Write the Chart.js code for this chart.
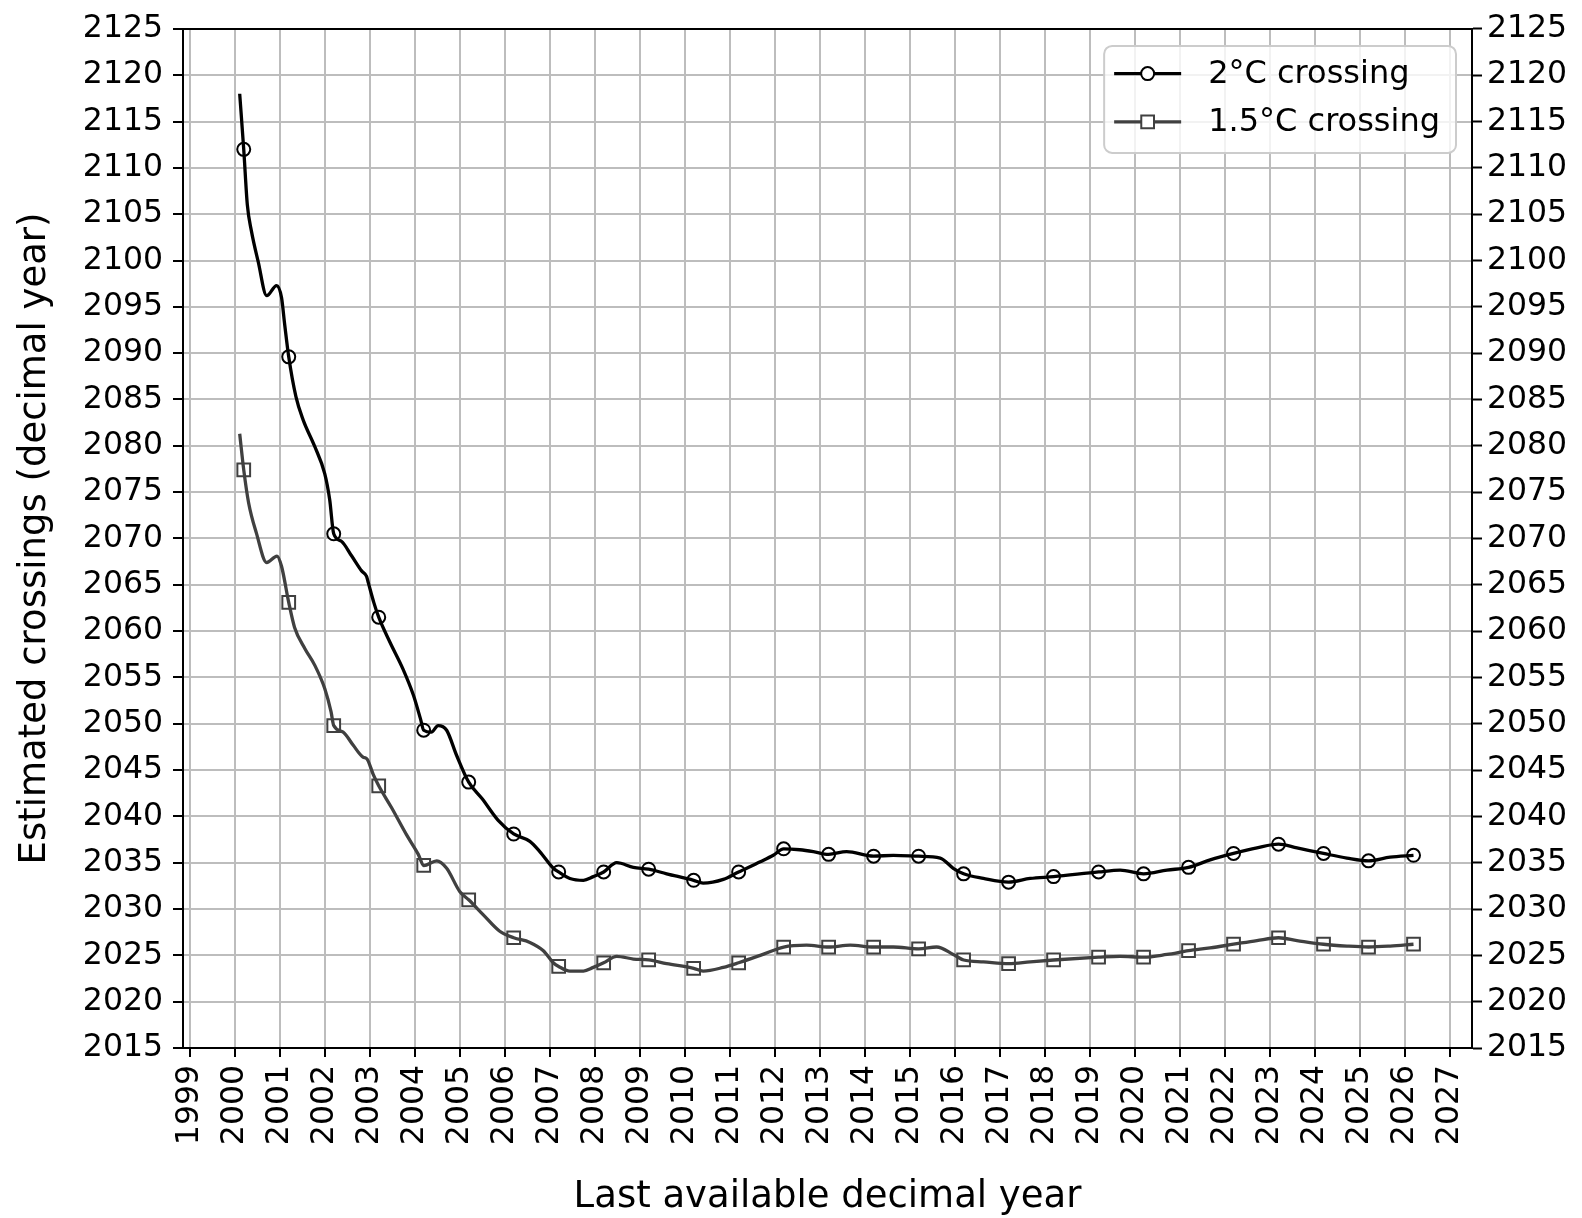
<!DOCTYPE html>
<html>
<head>
<meta charset="utf-8">
<title>Estimated crossings</title>
<script src="https://cdn.jsdelivr.net/npm/chart.js@4.4.1/dist/chart.umd.min.js"></script>
<style>
  html, body { margin: 0; padding: 0; background: #ffffff; }
  #wrap { width: 1582px; height: 1218px; }
</style>
</head>
<body>
<div id="wrap"><canvas id="chart" width="1582" height="1218"></canvas></div>
<script>
// Yearly marker positions (last available decimal year) and estimated crossing years
const markYears = [2000.2, 2001.2, 2002.2, 2003.2, 2004.2, 2005.2, 2006.2, 2007.2, 2008.2, 2009.2,
                   2010.2, 2011.2, 2012.2, 2013.2, 2014.2, 2015.2, 2016.2, 2017.2, 2018.2, 2019.2,
                   2020.2, 2021.2, 2022.2, 2023.2, 2024.2, 2025.2, 2026.2];
const mark2C  = [2112.0, 2089.6, 2070.5, 2061.5, 2049.3, 2043.7, 2038.1, 2034.0, 2034.0, 2034.3,
                 2033.1, 2034.0, 2036.5, 2035.9, 2035.7, 2035.7, 2033.8, 2032.9, 2033.5, 2034.0,
                 2033.8, 2034.5, 2036.0, 2037.0, 2036.0, 2035.2, 2035.8];
const mark15C = [2077.4, 2063.1, 2049.8, 2043.3, 2034.7, 2031.0, 2026.9, 2023.8, 2024.2, 2024.5,
                 2023.6, 2024.2, 2025.9, 2025.9, 2025.9, 2025.7, 2024.5, 2024.1, 2024.5, 2024.8,
                 2024.8, 2025.5, 2026.2, 2026.9, 2026.2, 2025.9, 2026.2];

// Intermediate points of the 2°C crossing trace
const trace2CYears = [2000.11, 2000.28, 2000.37, 2000.52, 2000.71, 2000.93, 2001.04, 2001.11, 2001.36, 2001.52,
                      2001.78, 2002.0, 2002.11, 2002.37, 2002.6, 2002.82, 2002.93, 2002.97, 2003.09, 2003.45,
                      2003.74, 2003.97, 2004.13, 2004.37, 2004.52, 2004.71, 2004.93, 2005.5, 2005.85, 2006.56,
                      2006.78, 2007.08, 2007.45, 2007.75, 2007.97, 2008.49, 2008.86, 2009.6, 2010.41, 2010.86,
                      2011.68, 2011.97, 2012.56, 2012.86, 2013.6, 2014.64, 2015.68, 2015.97, 2016.64, 2017.68,
                      2019.68, 2020.72, 2021.68, 2022.72, 2023.61, 2024.72, 2025.68];
const trace2C = [2118.0, 2106.0, 2103.2, 2099.9, 2096.2, 2097.3, 2096.0, 2093.1, 2085.3, 2082.8,
                 2079.9, 2077.0, 2074.2, 2069.7, 2068.1, 2066.5, 2065.9, 2065.2, 2063.1, 2058.8,
                 2055.9, 2053.1, 2050.5, 2049.1, 2049.8, 2049.3, 2046.6, 2041.9, 2039.6, 2037.3,
                 2036.2, 2034.4, 2033.3, 2033.1, 2033.5, 2035.0, 2034.5, 2033.8, 2032.8, 2033.2,
                 2035.1, 2035.8, 2036.4, 2036.2, 2036.2, 2035.8, 2035.5, 2034.4, 2033.3, 2033.3,
                 2034.2, 2034.2, 2035.3, 2036.6, 2036.6, 2035.5, 2035.6];

// Intermediate points of the 1.5°C crossing trace
const trace15CYears = [2000.11, 2000.31, 2000.48, 2000.71, 2000.94, 2001.04, 2001.33, 2001.56, 2001.78, 2002.0,
                       2002.14, 2002.41, 2002.63, 2002.85, 2002.94, 2003.08, 2003.49, 2003.82, 2004.08, 2004.49,
                       2004.71, 2005.0, 2005.52, 2005.89, 2006.56, 2006.86, 2007.08, 2007.45, 2007.75, 2007.97,
                       2008.49, 2008.86, 2009.6, 2010.41, 2010.86, 2011.68, 2012.71, 2013.68, 2014.64, 2015.6,
                       2015.97, 2016.64, 2017.68, 2019.68, 2020.72, 2021.68, 2022.72, 2023.61, 2024.72, 2025.68];
const trace15C = [2081.3, 2073.8, 2070.6, 2067.4, 2068.1, 2067.0, 2060.4, 2058.1, 2056.3, 2053.8,
                  2051.3, 2049.1, 2047.7, 2046.4, 2046.2, 2044.5, 2040.9, 2038.0, 2035.9, 2035.2,
                  2034.4, 2031.9, 2029.4, 2027.6, 2026.4, 2025.5, 2024.2, 2023.3, 2023.3, 2023.7,
                  2024.9, 2024.6, 2024.1, 2023.3, 2023.7, 2025.0, 2026.1, 2026.1, 2025.9, 2025.9,
                  2025.1, 2024.3, 2024.3, 2024.9, 2025.1, 2025.8, 2026.6, 2026.6, 2026.0, 2026.0];

// Axis ticks
const xTickYears = [1999, 2000, 2001, 2002, 2003, 2004, 2005, 2006, 2007, 2008, 2009, 2010, 2011, 2012, 2013,
                    2014, 2015, 2016, 2017, 2018, 2019, 2020, 2021, 2022, 2023, 2024, 2025, 2026, 2027];
const yTicks = [2015, 2020, 2025, 2030, 2035, 2040, 2045, 2050, 2055, 2060, 2065, 2070,
                2075, 2080, 2085, 2090, 2095, 2100, 2105, 2110, 2115, 2120, 2125];

const FONT = 'DejaVu Sans';
const COL_2C = '#000000';
const COL_15C = '#404040';
const GRID = '#bdbdbd';
const LINE_W = 3.3;
const CIRCLE_R = 6.5;
const SQUARE_R = 9;

function toPoints(xs, ys) {
  return xs.map((x, i) => ({ x: x, y: ys[i] }));
}
function traceOf(mx, my, tx, ty) {
  return toPoints(mx, my).concat(toPoints(tx, ty)).sort((a, b) => a.x - b.x);
}

// Legend drawn as line sample with marker in the middle, framed box
const legendPlugin = {
  id: 'lineMarkerLegend',
  afterDraw(chart) {
    const { ctx, chartArea } = chart;
    const entries = chart.data.datasets.filter(d => d.legendStyle);
    ctx.save();
    ctx.font = '32px "' + FONT + '"';
    const textW = Math.max(...entries.map(e => ctx.measureText(e.label).width));
    const padL = 10, sample = 67, gap = 27, padR = 16, rowH = 48.3;
    const w = padL + sample + gap + textW + padR;
    const h = 107;
    const x0 = chartArea.right - 16 - w;
    const y0 = chartArea.top + 17;
    ctx.beginPath();
    ctx.roundRect(x0, y0, w, h, 8);
    ctx.fillStyle = 'rgba(255,255,255,0.8)';
    ctx.fill();
    ctx.lineWidth = 2;
    ctx.strokeStyle = '#cccccc';
    ctx.stroke();
    entries.forEach((e, i) => {
      const cy = y0 + 27.7 + i * rowH;
      const lx = x0 + padL;
      ctx.beginPath();
      ctx.moveTo(lx, cy);
      ctx.lineTo(lx + sample, cy);
      ctx.strokeStyle = e.borderColor;
      ctx.lineWidth = LINE_W;
      ctx.stroke();
      ctx.fillStyle = '#ffffff';
      ctx.strokeStyle = e.borderColor;
      ctx.lineWidth = 2;
      ctx.beginPath();
      if (e.legendStyle.style === 'circle') {
        ctx.arc(lx + sample / 2, cy, e.legendStyle.radius, 0, Math.PI * 2);
      } else {
        const s = e.legendStyle.radius * Math.SQRT1_2;
        ctx.rect(lx + sample / 2 - s, cy - s, 2 * s, 2 * s);
      }
      ctx.fill();
      ctx.stroke();
      ctx.fillStyle = '#000000';
      ctx.textAlign = 'left';
      ctx.textBaseline = 'middle';
      ctx.fillText(e.label, lx + sample + gap, cy + 1);
    });
    ctx.restore();
  }
};

// Top spine of the frame
const framePlugin = {
  id: 'frameTop',
  afterDatasetsDraw(chart) {
    const { ctx, chartArea } = chart;
    ctx.save();
    ctx.strokeStyle = '#000000';
    ctx.lineWidth = 2;
    ctx.beginPath();
    ctx.moveTo(chartArea.left - 1, chartArea.top);
    ctx.lineTo(chartArea.right + 1, chartArea.top);
    ctx.stroke();
    ctx.restore();
  }
};

const tickFont = { family: FONT, size: 31.5 };
const titleFont = { family: FONT, size: 37, lineHeight: 1 };

new Chart(document.getElementById('chart'), {
  type: 'line',
  data: {
    datasets: [
      {
        label: '2°C crossing',
        data: traceOf(markYears, mark2C, trace2CYears, trace2C),
        borderColor: COL_2C, borderWidth: LINE_W, pointRadius: 0,
        cubicInterpolationMode: 'monotone', fill: false,
        legendStyle: { style: 'circle', radius: CIRCLE_R }
      },
      {
        label: '1.5°C crossing',
        data: traceOf(markYears, mark15C, trace15CYears, trace15C),
        borderColor: COL_15C, borderWidth: LINE_W, pointRadius: 0,
        cubicInterpolationMode: 'monotone', fill: false,
        legendStyle: { style: 'rect', radius: SQUARE_R }
      },
      {
        label: '2°C markers',
        data: toPoints(markYears, mark2C),
        showLine: false, pointStyle: 'circle', pointRadius: CIRCLE_R,
        pointBorderWidth: 2, pointBorderColor: COL_2C, pointBackgroundColor: '#ffffff'
      },
      {
        label: '1.5°C markers',
        data: toPoints(markYears, mark15C),
        showLine: false, pointStyle: 'rect', pointRadius: SQUARE_R,
        pointBorderWidth: 2, pointBorderColor: COL_15C, pointBackgroundColor: '#ffffff'
      }
    ]
  },
  options: {
    responsive: false,
    animation: false,
    devicePixelRatio: 1,
    layout: { padding: { top: 23, left: 0, right: 0, bottom: 0 } },
    plugins: { legend: { display: false }, tooltip: { enabled: false } },
    scales: {
      x: {
        type: 'linear', min: 1998.85, max: 2027.5,
        afterBuildTicks: s => { s.ticks = xTickYears.map(v => ({ value: v })); },
        afterFit: s => { s.height = 170; },
        ticks: { autoSkip: false, minRotation: 90, maxRotation: 90, padding: 8, color: '#000',
                 font: tickFont, callback: v => String(v) },
        grid: { color: GRID, lineWidth: 2, tickLength: 9, tickColor: '#000', tickWidth: 2 },
        border: { color: '#000', width: 2 },
        title: { display: true, text: 'Last available decimal year', color: '#000',
                 font: titleFont, padding: { top: 0, bottom: 2 } }
      },
      y: {
        position: 'left', min: 2015, max: 2125,
        afterBuildTicks: s => { s.ticks = yTicks.map(v => ({ value: v })); },
        afterFit: s => { s.width = 183; },
        ticks: { padding: 10, color: '#000', font: tickFont, callback: v => String(v) },
        grid: { color: GRID, lineWidth: 2, tickLength: 10, tickColor: '#000', tickWidth: 2 },
        border: { color: '#000', width: 2 },
        title: { display: true, text: 'Estimated crossings (decimal year)', color: '#000',
                 font: titleFont, padding: { top: 17, bottom: 0 } }
      },
      y2: {
        position: 'right', min: 2015, max: 2125,
        afterBuildTicks: s => { s.ticks = yTicks.map(v => ({ value: v })); },
        afterFit: s => { s.width = 110; },
        ticks: { padding: 5, color: '#000', font: tickFont, callback: v => String(v) },
        grid: { drawOnChartArea: false, tickLength: 10, tickColor: '#000', tickWidth: 2 },
        border: { color: '#000', width: 2 }
      }
    }
  },
  plugins: [legendPlugin, framePlugin]
});
</script>
</body>
</html>
